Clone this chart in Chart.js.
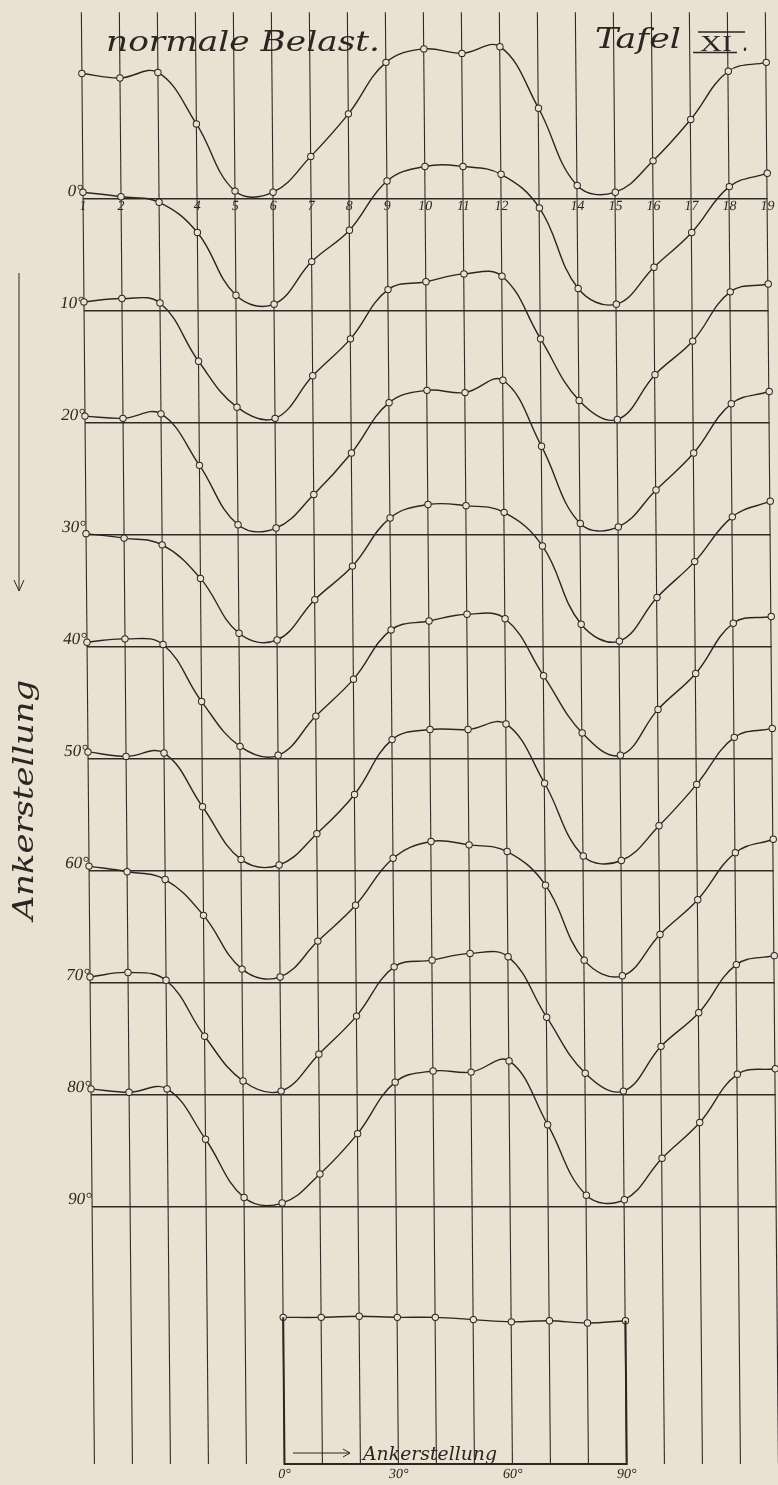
<!DOCTYPE html>
<html lang="de">
<head>
  <meta charset="UTF-8" />
  <meta name="viewport" content="width=device-width, initial-scale=1.0"/>
  <title>Tafel XI - normale Belastung</title>
  <script src="https://cdn.jsdelivr.net/npm/chart.js"></script>
  <style>
    html, body { margin: 0; padding: 0; background: #e9e2d2; }
    canvas { display: block; }
  </style>
</head>
<body>

<canvas id="tafel" width="778" height="1485"></canvas>

<script>
  // Ablesestellen 1..19 (senkrechte Linien)
  const positions = [1, 2, 3, 4, 5, 6, 7, 8, 9, 10, 11, 12, 13, 14, 15, 16, 17, 18, 19];
  const xTickLabels = ['1', '2', '', '4', '5', '6', '7', '8', '9', '10', '11', '12', '', '14', '15', '16', '17', '18', '19'];

  // Ankerstellung, Grundlinien 0° .. 90°
  const baselines = [0, 10, 20, 30, 40, 50, 60, 70, 80, 90];
  const yTickLabels = ['0°', '10°', '20°', '30°', '40°', '50°', '60°', '70°', '80°', '90°'];

  // Höhe jeder Kurve über ihrer Grundlinie (1 Teil = 1/10 Linienabstand)
  const curveTop = [11.2, 10.8, 11.3, 6.7, 0.7, 0.6, 3.8, 7.6, 12.2, 13.4, 13.0, 13.6, 8.1, 1.2, 0.6, 3.4, 7.1, 11.4, 12.2];
  const curve00  = [10.6, 10.2, 9.7, 7.0, 1.4, 0.6, 4.4, 7.2, 11.6, 12.9, 12.9, 12.2, 9.2, 2.0, 0.6, 3.9, 7.0, 11.1, 12.3];
  const curve10  = [10.8, 11.1, 10.7, 5.5, 1.4, 0.4, 4.2, 7.5, 11.9, 12.6, 13.3, 13.1, 7.5, 2.0, 0.3, 4.3, 7.3, 11.7, 12.4];
  const curve20  = [10.6, 10.4, 10.8, 6.2, 0.9, 0.6, 3.6, 7.3, 11.8, 12.9, 12.7, 13.8, 7.9, 1.0, 0.7, 4.0, 7.3, 11.7, 12.8];
  const curve30  = [10.1, 9.7, 9.1, 6.1, 1.2, 0.6, 4.2, 7.2, 11.5, 12.7, 12.6, 12.0, 9.0, 2.0, 0.5, 4.4, 7.6, 11.6, 13.0];
  const curve40  = [10.4, 10.7, 10.2, 5.1, 1.1, 0.3, 3.8, 7.1, 11.5, 12.3, 12.9, 12.5, 7.4, 2.3, 0.3, 4.4, 7.6, 12.1, 12.7];
  const curve50  = [10.6, 10.2, 10.5, 5.7, 1.0, 0.5, 3.3, 6.8, 11.7, 12.6, 12.6, 13.1, 7.8, 1.3, 0.9, 4.0, 7.7, 11.9, 12.7];
  const curve60  = [10.4, 9.9, 9.2, 6.0, 1.2, 0.5, 3.7, 6.9, 11.1, 12.6, 12.3, 11.7, 8.7, 2.0, 0.6, 4.3, 7.4, 11.6, 12.8];
  const curve70  = [10.5, 10.9, 10.2, 5.2, 1.2, 0.3, 3.6, 7.0, 11.4, 12.0, 12.6, 12.3, 6.9, 1.9, 0.3, 4.3, 7.3, 11.6, 12.4];
  const curve80  = [10.5, 10.2, 10.5, 6.0, 0.8, 0.3, 2.9, 6.5, 11.1, 12.1, 12.0, 13.0, 7.3, 1.0, 0.6, 4.3, 7.5, 11.8, 12.3];
  const curveNames = ['oben', '0°', '10°', '20°', '30°', '40°', '50°', '60°', '70°', '80°'];

  // kleines Feld unten: Mittelwert über die Ankerstellung 0°..90°
  const insetAngles = [0, 10, 20, 30, 40, 50, 60, 70, 80, 90];
  const insetValues = [13.1, 13.1, 13.2, 13.1, 13.1, 12.9, 12.7, 12.8, 12.6, 12.8];
  const insetTicks = [0, 30, 60, 90];
  const insetTickLabels = ['0°', '30°', '60°', '90°'];

  const paper = '#e9e2d2';
  const ink = '#2b2622';

  const curves = [curveTop, curve00, curve10, curve20, curve30, curve40, curve50, curve60, curve70, curve80];

  const lineStyle = {
    borderColor: ink,
    borderWidth: 1.4,
    tension: 0.4,
    pointRadius: 3.2,
    pointBorderWidth: 1,
    pointBorderColor: ink,
    pointBackgroundColor: paper,
    clip: false
  };

  const datasets = curves.map((vals, i) => ({
    label: curveNames[i],
    data: positions.map((p, j) => ({ x: p, y: baselines[i] - vals[j] })),
    xAxisID: 'x',
    yAxisID: 'y',
    ...lineStyle
  }));

  datasets.push({
    label: 'Ankerstellung 0°-90°',
    data: insetAngles.map((a, j) => ({ x: a, y: insetValues[j] })),
    xAxisID: 'xi',
    yAxisID: 'yi',
    ...lineStyle
  });

  // das Blatt liegt im Scan etwas schief: alles, was Chart.js zeichnet, leicht scheren
  const SKEW = 0.009, SKEW_Y0 = 700;
  const scanSkew = {
    id: 'scanSkew',
    beforeDraw(chart) {
      chart.ctx.save();
      chart.ctx.transform(1, 0, SKEW, 1, -SKEW * SKEW_Y0, 0);
    },
    afterDraw(chart) {
      chart.ctx.restore();
    }
  };

  // Rahmen des kleinen Feldes
  const insetFrame = {
    id: 'insetFrame',
    afterDatasetsDraw(chart) {
      const { ctx, scales: { xi, yi } } = chart;
      const x0 = xi.getPixelForValue(insetAngles[0]);
      const x1 = xi.getPixelForValue(insetAngles[insetAngles.length - 1]);
      const yb = yi.getPixelForValue(0);
      ctx.save();
      ctx.strokeStyle = ink;
      ctx.lineWidth = 2;
      ctx.beginPath();
      ctx.moveTo(x0, yi.getPixelForValue(insetValues[0]));
      ctx.lineTo(x0, yb);
      ctx.lineTo(x1, yb);
      ctx.lineTo(x1, yi.getPixelForValue(insetValues[insetValues.length - 1]));
      ctx.stroke();
      ctx.restore();
    }
  };

  function fitText(ctx, text, x, y, width, font) {
    ctx.save();
    ctx.font = font;
    const w = ctx.measureText(text).width;
    ctx.translate(x, y);
    ctx.scale(width / w, 1);
    ctx.fillText(text, 0, 0);
    ctx.restore();
  }

  // Beschriftung von Hand
  const handLettering = {
    id: 'handLettering',
    afterDraw(chart) {
      const ctx = chart.ctx;
      ctx.save();
      ctx.fillStyle = ink;
      ctx.strokeStyle = ink;
      ctx.textBaseline = 'alphabetic';

      fitText(ctx, 'normale Belast.', 106, 51, 274, 'italic 28px "DejaVu Serif"');
      fitText(ctx, 'Tafel', 595, 48, 86, 'italic 28px "DejaVu Serif"');
      fitText(ctx, 'XI', 700, 51, 32, '24px "Liberation Serif"');
      fitText(ctx, '.', 742, 51, 6, 'italic 28px "DejaVu Serif"');
      ctx.lineWidth = 1.5;
      ctx.beginPath();
      ctx.moveTo(698, 32); ctx.lineTo(745, 32);
      ctx.moveTo(693, 52.5); ctx.lineTo(737, 52.5);
      ctx.stroke();

      // senkrechter Pfeil und Achsentitel links
      ctx.lineWidth = 1;
      ctx.beginPath();
      ctx.moveTo(19, 273); ctx.lineTo(19, 591);
      ctx.moveTo(14, 580); ctx.lineTo(19, 591); ctx.lineTo(24, 580);
      ctx.stroke();

      ctx.save();
      ctx.translate(33, 920);
      ctx.rotate(-Math.PI / 2);
      fitText(ctx, 'Ankerstellung', 0, 0, 240, 'italic 28px "DejaVu Serif"');
      ctx.restore();

      // Pfeil im kleinen Feld
      ctx.beginPath();
      ctx.moveTo(293, 1453); ctx.lineTo(350, 1453);
      ctx.moveTo(343, 1449); ctx.lineTo(350, 1453); ctx.lineTo(343, 1457);
      ctx.stroke();
      fitText(ctx, 'Ankerstellung', 363, 1460, 134, 'italic 18px "DejaVu Serif"');
      ctx.restore();
    }
  };

  new Chart(document.getElementById('tafel'), {
    type: 'line',
    data: { datasets },
    plugins: [scanSkew, insetFrame, handLettering],
    options: {
      responsive: false,
      animation: false,
      devicePixelRatio: 1,
      layout: { padding: { left: 87.5, right: 5.5, top: 10, bottom: 21 } },
      plugins: {
        legend: { display: false },
        tooltip: { enabled: false }
      },
      scales: {
        x: {
          type: 'linear',
          axis: 'x',
          min: 1,
          max: 19,
          position: { y: 0 },
          afterBuildTicks: s => { s.ticks = positions.map(v => ({ value: v })); },
          grid: { color: '#2f2a25', lineWidth: 1.1, drawTicks: false },
          border: { display: false },
          ticks: {
            autoSkip: false,
            maxRotation: 0,
            padding: -1,
            color: ink,
            font: { family: 'Liberation Serif', style: 'italic', size: 14 },
            callback: (v, i) => xTickLabels[i]
          }
        },
        y: {
          type: 'linear',
          axis: 'y',
          reverse: true,
          min: -16.68,   // obere Kante des Blattes
          max: 113.01,   // untere Kante des kleinen Feldes
          position: { x: 1 },
          afterBuildTicks: s => { s.ticks = baselines.map(v => ({ value: v })); },
          grid: { color: '#2e2a25', lineWidth: 1.5, drawTicks: false },
          border: { display: false },
          ticks: {
            autoSkip: false,
            padding: 2,
            labelOffset: -7,
            color: ink,
            font: { family: 'Liberation Serif', style: 'italic', size: 17 },
            callback: (v, i) => yTickLabels[i]
          }
        },
        xi: {
          type: 'linear',
          axis: 'x',
          min: -50,
          max: 130,
          position: { yi: 0 },
          afterBuildTicks: s => { s.ticks = insetTicks.map(v => ({ value: v })); },
          grid: { display: false },
          border: { display: false },
          ticks: {
            autoSkip: false,
            maxRotation: 0,
            padding: -6,
            color: ink,
            font: { family: 'Liberation Serif', style: 'italic', size: 14 },
            callback: (v, i) => insetTickLabels[i]
          }
        },
        yi: {
          type: 'linear',
          axis: 'y',
          display: false,
          min: 0,
          max: 129.69
        }
      }
    }
  });
</script>

</body>
</html>
